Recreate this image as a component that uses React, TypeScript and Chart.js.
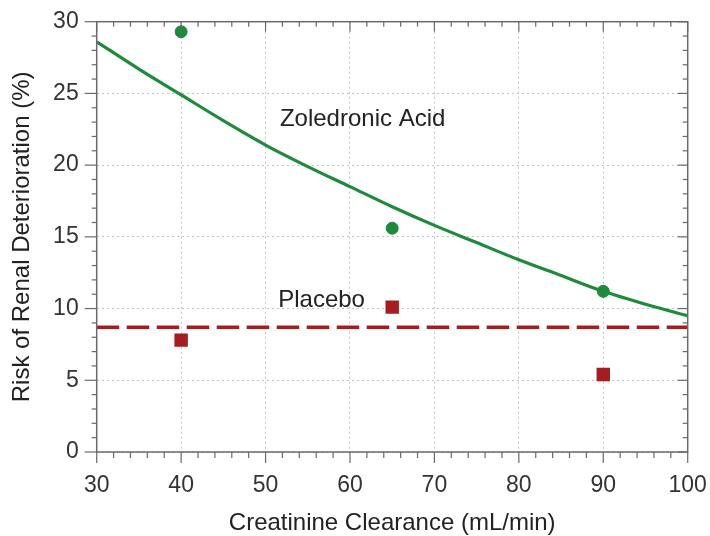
import React, { useEffect, useRef } from "react";
import { Chart, registerables } from "chart.js";

Chart.register(...registerables);

// Fitted curve (Zoledronic Acid)
const curveX = [30, 35, 40, 45, 50, 55, 60, 65, 70, 75, 80, 85, 90, 95, 100];
const curveY = [28.6, 26.7, 24.9, 23.1, 21.4, 19.9, 18.5, 17.1, 15.8, 14.6, 13.4, 12.3, 11.2, 10.3, 9.5];

// Observed points
const observedX = [40, 65, 90];
const zoledronicY = [29.3, 15.6, 11.2];
const placeboY = [7.8, 10.1, 5.4];

// Placebo mean line
const placeboMeanX = [30, 100];
const placeboMeanY = [8.7, 8.7];

// In-plot labels
const labelTexts = ["Zoledronic Acid", "Placebo"];
const labelX = [51.7, 51.5];
const labelY = [22.7, 10.1];

// Axis ticks
const xTicks = [30, 40, 50, 60, 70, 80, 90, 100];
const yTicks = [0, 5, 10, 15, 20, 25, 30];
const xMinorStep = 2;
const yMinorStep = 1;

const GREEN = "#1d8a3c";
const RED = "#a51c21";
const FONT = '"Liberation Sans", Arial, sans-serif';

const framePlugin = {
  id: "frameTicks",
  afterDatasetsDraw(chart: any) {
    const { ctx, chartArea, scales } = chart;
    const { left, right, top, bottom } = chartArea;
    const xs = scales.x;
    const ys = scales.y;
    ctx.save();
    ctx.strokeStyle = "#6a6a6a";
    ctx.lineWidth = 1.5;
    ctx.strokeRect(left, top, right - left, bottom - top);
    ctx.lineWidth = 1.2;
    const line = (x1: number, y1: number, x2: number, y2: number) => {
      ctx.beginPath();
      ctx.moveTo(x1, y1);
      ctx.lineTo(x2, y2);
      ctx.stroke();
    };
    const xMin = xTicks[0];
    const xMax = xTicks[xTicks.length - 1];
    for (let v = xMin; v <= xMax + 1e-9; v += xMinorStep) {
      const px = xs.getPixelForValue(v);
      const major = xTicks.includes(v);
      line(px, bottom, px, bottom + (major ? 11 : 6));
      line(px, top, px, top + (major ? 10 : 5));
    }
    const yMin = yTicks[0];
    const yMax = yTicks[yTicks.length - 1];
    for (let v = yMin; v <= yMax + 1e-9; v += yMinorStep) {
      const py = ys.getPixelForValue(v);
      const major = yTicks.includes(v);
      line(left - (major ? 12 : 5), py, left, py);
      line(right - (major ? 10 : 5), py, right, py);
    }
    // labels
    ctx.fillStyle = "#222";
    ctx.font = `24px ${FONT}`;
    ctx.textAlign = "left";
    ctx.textBaseline = "alphabetic";
    labelTexts.forEach((t, i) => {
      ctx.fillText(t, xs.getPixelForValue(labelX[i]), ys.getPixelForValue(labelY[i]));
    });
    ctx.restore();
  },
};

export default function App() {
  const ref = useRef<HTMLCanvasElement | null>(null);
  useEffect(() => {
    if (!ref.current) return;
    const chart = new Chart(ref.current, {
      type: "scatter",
      data: {
        datasets: [
          {
            label: "Zoledronic fit",
            data: curveX.map((x, i) => ({ x, y: curveY[i] })),
            showLine: true,
            borderColor: GREEN,
            borderWidth: 3.2,
            pointRadius: 0,
            cubicInterpolationMode: "monotone",
            order: 3,
          },
          {
            label: "Placebo mean",
            data: placeboMeanX.map((x, i) => ({ x, y: placeboMeanY[i] })),
            showLine: true,
            borderColor: RED,
            borderWidth: 3.5,
            borderDash: [22.5, 7.5],
            pointRadius: 0,
            order: 2,
          },
          {
            label: "Zoledronic Acid",
            data: observedX.map((x, i) => ({ x, y: zoledronicY[i] })),
            pointStyle: "circle",
            pointRadius: 6,
            pointBorderWidth: 1,
            backgroundColor: GREEN,
            borderColor: GREEN,
            order: 1,
          },
          {
            label: "Placebo",
            data: observedX.map((x, i) => ({ x, y: placeboY[i] })),
            pointStyle: "rect",
            pointRadius: 9.5,
            pointBorderWidth: 0,
            backgroundColor: RED,
            borderColor: RED,
            order: 1,
          },
        ],
      },
      options: {
        animation: false,
        responsive: false,
        devicePixelRatio: 1,
        layout: { padding: { top: 21.7, right: 22.3, left: 0, bottom: 0 } },
        plugins: {
          legend: { display: false },
          tooltip: { enabled: false },
        },
        scales: {
          x: {
            type: "linear",
            min: xTicks[0],
            max: xTicks[xTicks.length - 1],
            afterBuildTicks: (s: any) => {
              s.ticks = xTicks.map((v) => ({ value: v }));
            },
            afterFit: (s: any) => {
              s.height = 84;
              s.paddingLeft = 0;
              s.paddingRight = 0;
            },
            ticks: {
              padding: 20,
              color: "#333",
              font: { size: 23, family: FONT },
              maxRotation: 0,
            },
            grid: { color: "#c4c4c4", lineWidth: 1, drawTicks: false },
            border: { display: false, dash: [2, 3] },
            title: {
              display: true,
              text: "Creatinine Clearance (mL/min)",
              color: "#222",
              font: { size: 24, family: FONT, lineHeight: 1 },
              padding: { top: 0, bottom: 1 },
            },
          },
          y: {
            type: "linear",
            min: yTicks[0],
            max: yTicks[yTicks.length - 1],
            afterBuildTicks: (s: any) => {
              s.ticks = yTicks.map((v) => ({ value: v }));
            },
            afterFit: (s: any) => {
              s.width = 96.7;
              s.paddingTop = 0;
              s.paddingBottom = 0;
            },
            ticks: {
              padding: 18,
              color: "#333",
              font: { size: 23, family: FONT },
            },
            grid: { color: "#c4c4c4", lineWidth: 1, drawTicks: false },
            border: { display: false, dash: [2, 3] },
            title: {
              display: true,
              text: "Risk of Renal Deterioration (%)",
              color: "#222",
              font: { size: 24, family: FONT, lineHeight: 1.2 },
              padding: { top: 8, bottom: 0 },
            },
          },
        },
      },
      plugins: [framePlugin],
    } as any);
    return () => chart.destroy();
  }, []);
  return (
    <div style={{ position: "fixed", left: 0, top: 0, width: 710, height: 536, background: "#fff" }}>
      <canvas ref={ref} width={710} height={536} style={{ width: 710, height: 536, display: "block" }} />
    </div>
  );
}
